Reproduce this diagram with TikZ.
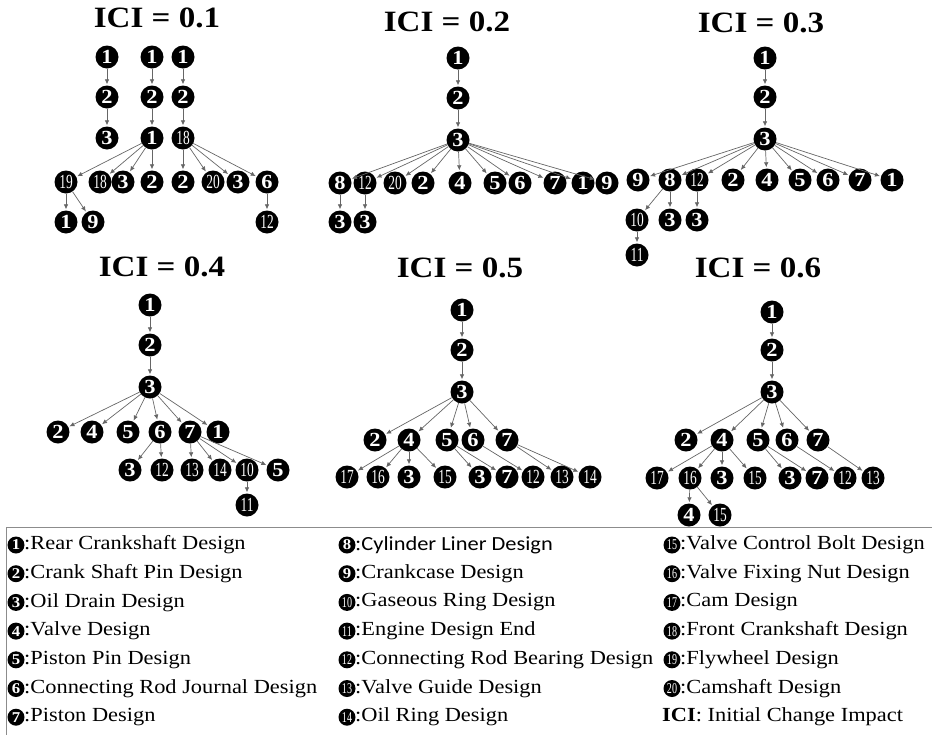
\documentclass[tikz,border=0pt]{standalone}
\usepackage{fontspec}
\usepackage{graphicx}
\setmainfont{Liberation Serif}[FakeStretch=1.12]
\newfontfamily\legsans{Carlito}[FakeStretch=1.12]
\usetikzlibrary{arrows.meta}

% condensed two-digit number inside a disc
\newcommand{\tw}[1]{\scalebox{0.6}[1]{\mdseries #1}}

\begin{document}
\begin{tikzpicture}[x=1pt, y=-1pt, >={Latex[length=5pt,width=4.5pt]},
    num/.style={circle, fill=black, text=white, inner sep=0pt, minimum size=23pt,
      font=\bfseries\fontsize{20}{20}\selectfont},
    title/.style={font=\bfseries\fontsize{29.5}{29.5}\selectfont},
    edge/.style={->, draw=black!60, line width=0.7pt, shorten >=1pt},
    key/.style={circle, fill=black, text=white, inner sep=0pt, minimum size=17pt,
      font=\bfseries\fontsize{15}{15}\selectfont},
    keytext/.style={anchor=west, inner sep=0pt, font=\fontsize{20}{20}\selectfont}]
        \useasboundingbox (0,0) rectangle (932,734);

        % ICI = 0.1
        \node [title] (ta) at (157,18) {ICI = 0.1};
        \node [num] (aA1) at (107,57)  {1};
        \node [num] (aA2) at (107,97)  {2};
        \node [num] (aA3) at (107,138) {3};
        \node [num] (aB1) at (152,57)  {1};
        \node [num] (aB2) at (152,97)  {2};
        \node [num] (aB3) at (152,138) {1};
        \node [num] (aC1) at (183,57)  {1};
        \node [num] (aC2) at (183,97)  {2};
        \node [num] (aC3) at (183,138) {\tw{18}};
        \node [num] (a41) at (66,182)  {\tw{19}};
        \node [num] (a42) at (100,182) {\tw{18}};
        \node [num] (a43) at (123,182) {3};
        \node [num] (a44) at (152,182) {2};
        \node [num] (a45) at (183,182) {2};
        \node [num] (a46) at (213,182) {\tw{20}};
        \node [num] (a47) at (238,182) {3};
        \node [num] (a48) at (267,182) {6};
        \node [num] (a51) at (66,222)  {1};
        \node [num] (a52) at (93,222)  {9};
        \node [num] (a53) at (267,222) {\tw{12}};

        \draw[edge] (aA1) -- (aA2);
        \draw[edge] (aA2) -- (aA3);
        \draw[edge] (aB1) -- (aB2);
        \draw[edge] (aB2) -- (aB3);
        \draw[edge] (aC1) -- (aC2);
        \draw[edge] (aC2) -- (aC3);
        \foreach \t in {a41,a42,a43,a44} \draw[edge] (aB3) -- (\t);
        \foreach \t in {a45,a46,a47,a48} \draw[edge] (aC3) -- (\t);
        \draw[edge] (a41) -- (a51);
        \draw[edge] (a41) -- (a52);
        \draw[edge] (a48) -- (a53);

        % ICI = 0.2
        \node [title] (tb) at (447,22) {ICI = 0.2};
        \node [num] (b1) at (458,58)  {1};
        \node [num] (b2) at (458,98)  {2};
        \node [num] (b3) at (458,140) {3};
        \node [num] (b41) at (340,183) {8};
        \node [num] (b42) at (365,183) {\tw{12}};
        \node [num] (b43) at (395,183) {\tw{20}};
        \node [num] (b44) at (423,183) {2};
        \node [num] (b45) at (460,183) {4};
        \node [num] (b46) at (495,183) {5};
        \node [num] (b47) at (520,183) {6};
        \node [num] (b48) at (555,183) {7};
        \node [num] (b49) at (583,183) {1};
        \node [num] (b410) at (607,183) {9};
        \node [num] (b51) at (340,222) {3};
        \node [num] (b52) at (365,222) {3};

        \draw[edge] (b1) -- (b2);
        \draw[edge] (b2) -- (b3);
        \foreach \t in {b41,b42,b43,b44,b45,b46,b47,b48,b49,b410} \draw[edge] (b3) -- (\t);
        \draw[edge] (b41) -- (b51);
        \draw[edge] (b42) -- (b52);

        % ICI = 0.3
        \node [title] (tc) at (761,23) {ICI = 0.3};
        \node [num] (c1) at (765,58)  {1};
        \node [num] (c2) at (765,97)  {2};
        \node [num] (c3) at (765,139) {3};
        \node [num] (c41) at (638,180) {9};
        \node [num] (c42) at (670,180) {8};
        \node [num] (c43) at (697,180) {\tw{12}};
        \node [num] (c44) at (733,180) {2};
        \node [num] (c45) at (767,180) {4};
        \node [num] (c46) at (800,180) {5};
        \node [num] (c47) at (828,180) {6};
        \node [num] (c48) at (860,180) {7};
        \node [num] (c49) at (892,180) {1};
        \node [num] (c51) at (637,220) {\tw{10}};
        \node [num] (c52) at (670,220) {3};
        \node [num] (c53) at (697,220) {3};
        \node [num] (c61) at (637,255) {\tw{11}};

        \draw[edge] (c1) -- (c2);
        \draw[edge] (c2) -- (c3);
        \foreach \t in {c41,c42,c43,c44,c45,c46,c47,c48,c49} \draw[edge] (c3) -- (\t);
        \draw[edge] (c42) -- (c51);
        \draw[edge] (c42) -- (c52);
        \draw[edge] (c43) -- (c53);
        \draw[edge] (c51) -- (c61);

        % ICI = 0.4
        \node [title] (td) at (162,267) {ICI = 0.4};
        \node [num] (d1) at (150,305) {1};
        \node [num] (d2) at (150,345) {2};
        \node [num] (d3) at (150,387) {3};
        \node [num] (d41) at (58,432)  {2};
        \node [num] (d42) at (92,432)  {4};
        \node [num] (d43) at (128,432) {5};
        \node [num] (d44) at (160,432) {6};
        \node [num] (d45) at (190,432) {7};
        \node [num] (d46) at (218,432) {1};
        \node [num] (d51) at (130,470) {3};
        \node [num] (d52) at (162,470) {\tw{12}};
        \node [num] (d53) at (192,470) {\tw{13}};
        \node [num] (d54) at (220,470) {\tw{14}};
        \node [num] (d55) at (247,470) {\tw{10}};
        \node [num] (d56) at (278,470) {5};
        \node [num] (d61) at (247,505) {\tw{11}};

        \draw[edge] (d1) -- (d2);
        \draw[edge] (d2) -- (d3);
        \foreach \t in {d41,d42,d43,d44,d45,d46} \draw[edge] (d3) -- (\t);
        \draw[edge] (d44) -- (d51);
        \draw[edge] (d44) -- (d52);
        \foreach \t in {d53,d54,d55,d56} \draw[edge] (d45) -- (\t);
        \draw[edge] (d55) -- (d61);

        % ICI = 0.5
        \node [title] (te) at (460,268) {ICI = 0.5};
        \node [num] (e1) at (462,310) {1};
        \node [num] (e2) at (462,350) {2};
        \node [num] (e3) at (462,392) {3};
        \node [num] (e41) at (375,440) {2};
        \node [num] (e42) at (409,440) {4};
        \node [num] (e43) at (447,440) {5};
        \node [num] (e44) at (473,440) {6};
        \node [num] (e45) at (507,440) {7};
        \node [num] (e51) at (347,477) {\tw{17}};
        \node [num] (e52) at (378,477) {\tw{16}};
        \node [num] (e53) at (409,477) {3};
        \node [num] (e54) at (445,477) {\tw{15}};
        \node [num] (e55) at (480,477) {3};
        \node [num] (e56) at (507,477) {7};
        \node [num] (e57) at (533,477) {\tw{12}};
        \node [num] (e58) at (562,477) {\tw{13}};
        \node [num] (e59) at (590,477) {\tw{14}};

        \draw[edge] (e1) -- (e2);
        \draw[edge] (e2) -- (e3);
        \foreach \t in {e41,e42,e43,e44,e45} \draw[edge] (e3) -- (\t);
        \foreach \t in {e51,e52,e53,e54} \draw[edge] (e42) -- (\t);
        \draw[edge] (e43) -- (e55);
        \draw[edge] (e43) -- (e56);
        \draw[edge] (e44) -- (e57);
        \draw[edge] (e45) -- (e58);
        \draw[edge] (e45) -- (e59);

        % ICI = 0.6
        \node [title] (tf) at (758,268) {ICI = 0.6};
        \node [num] (f1) at (772,312) {1};
        \node [num] (f2) at (772,350) {2};
        \node [num] (f3) at (772,392) {3};
        \node [num] (f41) at (686,440) {2};
        \node [num] (f42) at (722,440) {4};
        \node [num] (f43) at (758,440) {5};
        \node [num] (f44) at (787,440) {6};
        \node [num] (f45) at (818,440) {7};
        \node [num] (f51) at (657,478) {\tw{17}};
        \node [num] (f52) at (690,478) {\tw{16}};
        \node [num] (f53) at (722,478) {3};
        \node [num] (f54) at (755,478) {\tw{15}};
        \node [num] (f55) at (790,478) {3};
        \node [num] (f56) at (817,478) {7};
        \node [num] (f57) at (845,478) {\tw{12}};
        \node [num] (f58) at (873,478) {\tw{13}};
        \node [num] (f61) at (689,515) {4};
        \node [num] (f62) at (720,515) {\tw{15}};

        \draw[edge] (f1) -- (f2);
        \draw[edge] (f2) -- (f3);
        \foreach \t in {f41,f42,f43,f44,f45} \draw[edge] (f3) -- (\t);
        \foreach \t in {f51,f52,f53,f54} \draw[edge] (f42) -- (\t);
        \draw[edge] (f43) -- (f55);
        \draw[edge] (f43) -- (f56);
        \draw[edge] (f44) -- (f57);
        \draw[edge] (f45) -- (f58);
        \draw[edge] (f52) -- (f61);
        \draw[edge] (f52) -- (f62);

        % Legend
        \draw[black!45, line width=0.8pt] (6,745) -- (6,527) -- (945,527);
        \foreach \n/\txt [count=\i] in {1/Rear Crankshaft Design, 2/Crank Shaft Pin Design,
            3/Oil Drain Design, 4/Valve Design, 5/Piston Pin Design,
            6/Connecting Rod Journal Design, 7/Piston Design} {
          \node [key] (k\n) at (16,{545+(\i-1)*28.7}) {\n};
          \node [keytext] (kt\n) at (24,{545+(\i-1)*28.7}) {:\txt};
        }
        \foreach \n/\txt [count=\i] in {8/{\legsans Cylinder Liner Design}, 9/Crankcase Design,
            10/Gaseous Ring Design, 11/Engine Design End, 12/Connecting Rod Bearing Design,
            13/Valve Guide Design, 14/Oil Ring Design} {
          \node [key] (k\n) at (347,{545+(\i-1)*28.7}) {\ifnum\n>9 \tw{\n}\else\n\fi};
          \node [keytext] (kt\n) at (355,{545+(\i-1)*28.7}) {:\txt};
        }
        \foreach \n/\txt [count=\i] in {15/Valve Control Bolt Design, 16/Valve Fixing Nut Design,
            17/Cam Design, 18/Front Crankshaft Design, 19/Flywheel Design,
            20/Camshaft Design} {
          \node [key] (k\n) at (672,{545+(\i-1)*28.7}) {\tw{\n}};
          \node [keytext] (kt\n) at (680,{545+(\i-1)*28.7}) {:\txt};
        }
        \node [keytext] (kici) at (662,717) {\textbf{ICI}: Initial Change Impact};

      \end{tikzpicture}
\end{document}
